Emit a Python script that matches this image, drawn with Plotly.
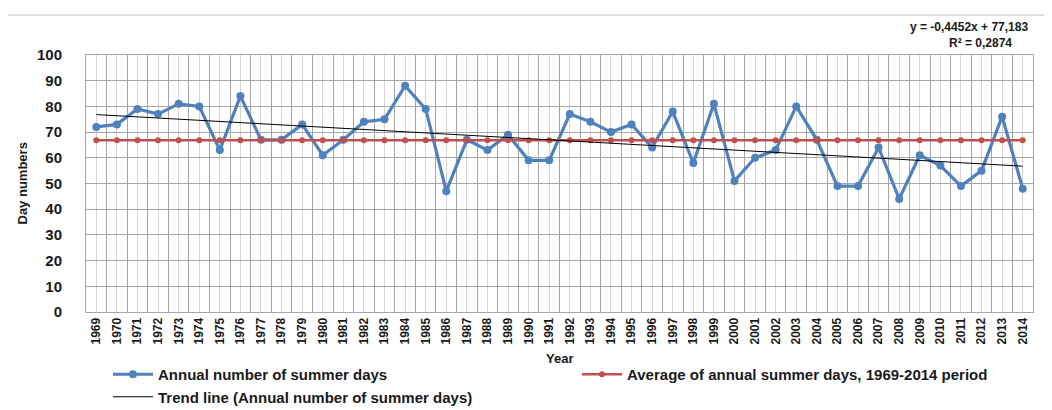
import numpy as np
import plotly.graph_objects as go

years = list(range(1969, 2015))
summer_days = [72, 73, 79, 77, 81, 80, 63, 84, 67, 67, 73, 61, 67, 74, 75, 88, 79, 47,
               67, 63, 69, 59, 59, 77, 74, 70, 73, 64, 78, 58, 81, 51, 60, 63, 80, 67,
               49, 49, 64, 44, 61, 57, 49, 55, 76, 48]
y_ticks = [0, 10, 20, 30, 40, 50, 60, 70, 80, 90, 100]

idx = np.arange(1, len(years) + 1)
vals = np.array(summer_days, dtype=float)
mean_val = vals.mean()
slope, intercept = np.polyfit(idx, vals, 1)
trend = slope * idx + intercept

W, H = 1052, 410
OFF = 8  # page body margin
L, R, T, B = 86 - OFF, 1033 - OFF, 55 - OFF, 312 - OFF
pw, ph = R - L, B - T
# helpers take screen coordinates
def px(x): return (x - OFF - L) / pw
def py(y): return (B - (y - OFF)) / ph

FONT = "Liberation Sans, Arial, sans-serif"
TXT = "#1a1a1a"
BLUE = "#4f81bd"
RED = "#c0504d"

fig = go.Figure()
fig.add_trace(go.Scatter(
    x=idx, y=vals, mode="lines+markers",
    name="Annual number of summer days",
    line=dict(color=BLUE, width=3.2),
    marker=dict(color=BLUE, size=8),
    legend="legend",
))
fig.add_trace(go.Scatter(
    x=idx, y=[mean_val] * len(idx), mode="lines+markers",
    name="Average of annual summer days, 1969-2014 period",
    line=dict(color=RED, width=2.5),
    marker=dict(color=RED, size=6),
    legend="legend2",
))
fig.add_trace(go.Scatter(
    x=idx, y=trend, mode="lines",
    name="Trend line (Annual number of summer days)",
    line=dict(color="black", width=1),
    legend="legend",
))

legend_common = dict(
    orientation="v", xanchor="left", yanchor="top",
    font=dict(family=FONT, size=15, color=TXT, weight="bold"),
    tracegroupgap=0, itemwidth=40, bgcolor="rgba(0,0,0,0)",
)

fig.update_layout(
    width=W, height=H,
    margin=dict(l=L, r=W - R, t=T, b=H - B, autoexpand=False),
    paper_bgcolor="white", plot_bgcolor="white",
    font=dict(family=FONT, color=TXT),
    showlegend=True,
    legend=dict(x=px(108), y=py(358), **legend_common),
    legend2=dict(x=px(577), y=py(358), **legend_common),
    xaxis=dict(
        range=[0.5, len(years) + 0.5],
        tickmode="array", tickvals=idx, ticktext=[str(y) for y in years],
        tickangle=-90, tickfont=dict(family=FONT, size=12, weight="bold", color=TXT),
        showgrid=True, gridcolor="#d4d4d4", gridwidth=1,
        minor=dict(tickmode="array", tickvals=list(np.arange(0.5, len(years) + 1, 1.0)),
                   showgrid=True, gridcolor="#a6a6a6", gridwidth=1, ticks=""),
        showline=True, linecolor="#a6a6a6", mirror=True,
        ticks="", zeroline=False, automargin=False,
    ),
    yaxis=dict(
        range=[0, 100], tickmode="array", tickvals=y_ticks,
        tickfont=dict(family=FONT, size=15, weight="bold", color=TXT),
        showgrid=True, gridcolor="#a6a6a6", gridwidth=1,
        showline=True, linecolor="#a6a6a6", mirror=True,
        ticks="outside", ticklen=20, tickcolor="rgba(0,0,0,0)",
        zeroline=False, automargin=False,
    ),
    annotations=[
        dict(text="Year", x=0.5, y=py(358), xref="paper", yref="paper",
             showarrow=False, font=dict(size=13, weight="bold", color=TXT),
             xanchor="center", yanchor="middle"),
        dict(text="Day numbers", x=px(22), y=0.5, xref="paper", yref="paper",
             showarrow=False, textangle=-90,
             font=dict(size=13, weight="bold", color=TXT),
             xanchor="center", yanchor="middle"),
        dict(text="y = -0,4452x + 77,183", x=px(1030), y=py(27), xref="paper", yref="paper",
             showarrow=False, font=dict(size=12, weight="bold", color=TXT),
             xanchor="right", yanchor="middle"),
        dict(text="R² = 0,2874", x=px(980), y=py(43), xref="paper", yref="paper",
             showarrow=False, font=dict(size=12, weight="bold", color=TXT),
             xanchor="center", yanchor="middle"),
    ],
    shapes=[
        dict(type="rect", xref="paper", yref="paper",
             x0=px(7), x1=px(1049), y0=py(430), y1=py(15),
             line=dict(color="#bfbfbf", width=1), fillcolor="rgba(0,0,0,0)", layer="below"),
    ],
)

fig.write_html("out.html")
